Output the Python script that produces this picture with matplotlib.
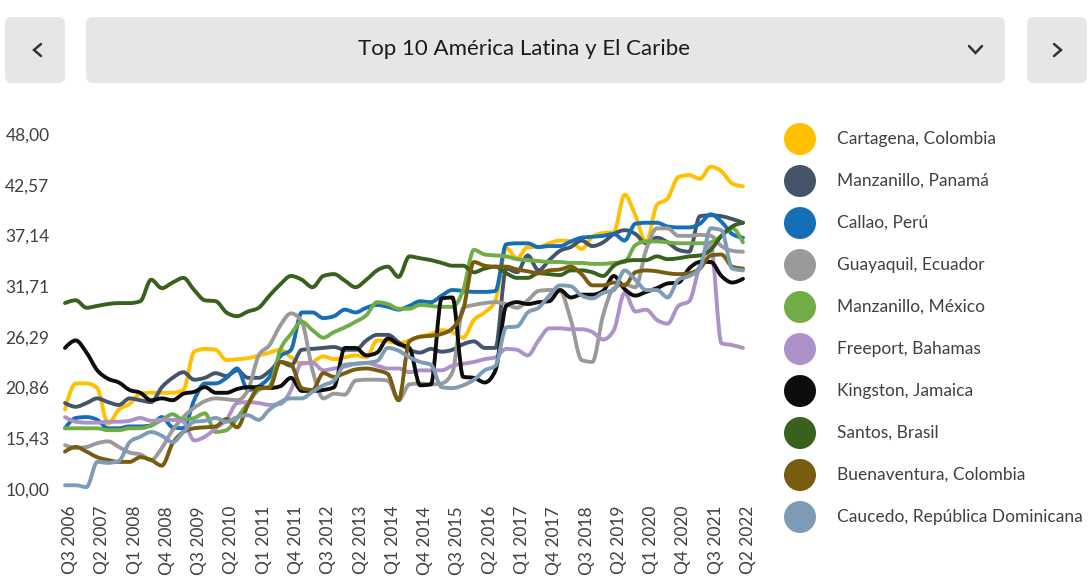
import numpy as np
import matplotlib
matplotlib.use("Agg")
import matplotlib.pyplot as plt
from matplotlib.path import Path
from matplotlib.patches import PathPatch, Circle, FancyBboxPatch
from matplotlib.transforms import IdentityTransform, ScaledTranslation
from matplotlib.lines import Line2D

plt.rcParams['font.family'] = ['Lato', 'DejaVu Sans']

title = "Top 10 América Latina y El Caribe"

# quarters Q3 2006 .. Q2 2022
quarters = []
for year in range(2006, 2023):
    for q in range(1, 5):
        if (year == 2006 and q < 3) or (year == 2022 and q > 2):
            continue
        quarters.append("Q%d %d" % (q, year))

ports = ["Cartagena, Colombia", "Manzanillo, Panamá", "Callao, Perú",
         "Guayaquil, Ecuador", "Manzanillo, México", "Freeport, Bahamas",
         "Kingston, Jamaica", "Santos, Brasil", "Buenaventura, Colombia",
         "Caucedo, República Dominicana"]

colors = ["#FFC000", "#44546A", "#156EB6", "#9A9A9A", "#70AD47",
          "#AC92C8", "#0D0D0D", "#38611C", "#7A5C0E", "#7E9CB5"]

cartagena = [18.5, 21.3, 21.3, 20.8, 17.0, 18.5, 19.1, 20.2, 20.3, 20.3, 20.3, 20.6,
             24.7, 25.0, 24.9, 23.8, 23.9, 24.0, 24.3, 24.6, 24.9, 24.1, 23.4, 23.6,
             24.2, 23.9, 24.1, 24.3, 24.1, 25.9, 25.8, 25.6, 25.9, 26.3, 26.6, 27.0,
             26.8, 26.2, 28.1, 28.9, 30.2, 35.8, 34.7, 35.9, 35.9, 36.3, 36.6, 36.5,
             35.7, 37.0, 37.4, 37.5, 41.5, 39.3, 36.4, 40.4, 41.1, 43.4, 43.6, 43.2,
             44.5, 44.0, 42.7, 42.4]
panama = [19.2, 18.8, 19.2, 19.7, 19.3, 19.0, 19.7, 19.5, 19.3, 20.9, 21.9, 22.5,
          21.7, 21.9, 22.4, 22.1, 22.7, 21.9, 21.9, 22.6, 23.6, 23.2, 24.9, 25.0,
          25.1, 25.2, 24.9, 24.9, 25.9, 26.5, 26.5, 25.7, 24.9, 24.6, 25.0, 24.7,
          24.9, 25.5, 25.8, 25.1, 25.1, 33.6, 33.2, 35.0, 33.4, 34.5, 35.5, 35.9,
          36.6, 36.0, 36.4, 37.3, 37.7, 37.3, 36.3, 36.9, 36.4, 35.6, 35.4, 39.2,
          39.3, 39.2, 38.9, 38.5]
callao = [16.5, 17.6, 17.7, 17.4, 16.5, 16.5, 16.7, 16.7, 16.8, 17.7, 16.6, 16.5,
          19.5, 21.3, 21.3, 21.9, 22.9, 20.6, 21.0, 22.0, 24.2, 24.9, 28.9, 28.9,
          28.3, 28.5, 29.2, 28.9, 29.4, 29.7, 29.5, 29.2, 29.6, 30.1, 30.0, 30.7,
          31.3, 31.2, 31.1, 31.1, 31.2, 36.2, 36.3, 36.3, 35.9, 36.0, 36.0, 36.5,
          36.9, 37.0, 37.1, 37.3, 36.6, 38.4, 38.5, 38.5, 38.1, 38.0, 38.0, 38.4,
          39.4, 38.6, 37.3, 36.9]
guayaquil = [14.7, 14.4, 14.5, 14.9, 15.1, 14.5, 13.9, 13.7, 13.1, 14.4, 16.3, 17.7,
             18.7, 19.4, 19.7, 19.6, 19.5, 20.6, 24.3, 25.4, 27.5, 28.8, 27.9, 22.7,
             19.7, 20.2, 20.1, 21.6, 21.7, 21.7, 21.6, 19.5, 21.2, 21.3, 21.2, 21.3,
             22.5, 29.4, 29.7, 29.9, 30.0, 29.8, 29.4, 30.2, 31.2, 31.3, 31.2, 28.1,
             23.8, 23.6, 28.6, 31.5, 31.9, 31.6, 35.6, 37.9, 37.9, 37.1, 37.1, 37.2,
             37.1, 36.0, 35.5, 35.4]
mexico = [16.5, 16.5, 16.5, 16.5, 16.3, 16.3, 16.5, 16.5, 16.8, 17.4, 18.0, 17.4,
          17.6, 18.1, 16.1, 16.3, 17.6, 19.2, 20.6, 21.0, 24.9, 26.6, 27.9, 27.0,
          26.2, 26.8, 27.3, 27.9, 28.6, 30.0, 29.8, 29.3, 29.3, 29.7, 29.6, 29.5,
          29.5, 31.3, 35.6, 35.1, 35.0, 34.9, 34.6, 34.5, 34.4, 34.3, 34.3, 34.2,
          34.2, 34.1, 34.1, 34.2, 34.3, 36.1, 36.5, 36.5, 36.4, 36.3, 36.3, 36.3,
          36.4, 37.1, 37.9, 36.4]
freeport = [17.7, 17.2, 17.1, 17.1, 17.2, 17.2, 17.3, 17.6, 17.3, 17.4, 17.4, 17.2,
            15.2, 15.6, 16.5, 17.4, 19.2, 19.3, 19.2, 19.0, 19.1, 20.6, 23.5, 23.5,
            22.7, 22.9, 23.1, 23.4, 23.5, 23.2, 22.9, 22.9, 22.5, 22.7, 22.7, 22.7,
            23.2, 23.4, 23.6, 23.9, 24.1, 25.0, 24.9, 24.3, 25.9, 27.2, 27.2, 27.1,
            27.1, 26.8, 26.0, 27.0, 31.0, 29.0, 29.2, 28.1, 27.7, 29.6, 30.1, 34.0,
            36.1, 25.6, 25.4, 25.1]
kingston = [25.1, 25.9, 24.6, 22.7, 21.8, 21.4, 20.6, 20.3, 19.5, 19.7, 19.5, 20.2,
            20.4, 20.9, 20.3, 20.3, 20.7, 20.9, 20.9, 20.8, 21.0, 21.9, 20.5, 20.5,
            20.6, 20.9, 25.1, 25.1, 24.3, 24.6, 26.1, 25.5, 25.1, 21.1, 21.2, 30.4,
            30.5, 22.0, 21.9, 21.4, 22.7, 29.6, 30.0, 29.8, 30.0, 30.1, 31.3, 30.5,
            30.8, 30.8, 31.2, 32.8, 31.4, 30.7, 31.1, 31.5, 32.0, 32.1, 33.6, 34.3,
            34.3, 32.8, 32.1, 32.5]
santos = [29.9, 30.2, 29.4, 29.6, 29.8, 29.9, 29.9, 30.1, 32.4, 31.5, 32.1, 32.6,
          31.3, 30.2, 30.1, 28.9, 28.5, 29.0, 29.4, 30.7, 31.9, 32.8, 32.4, 31.6,
          32.8, 33.0, 32.3, 31.6, 32.4, 33.4, 33.8, 32.7, 34.9, 34.7, 34.5, 34.2,
          33.9, 33.9, 33.2, 33.6, 33.8, 33.1, 32.6, 32.6, 33.1, 33.0, 32.9, 33.4,
          33.4, 33.2, 32.8, 33.9, 34.4, 34.5, 34.5, 34.9, 34.6, 34.7, 34.9, 35.0,
          35.6, 37.1, 38.1, 38.5]
buenaventura = [14.0, 14.5, 14.0, 13.4, 13.1, 12.9, 12.9, 13.4, 13.1, 12.5, 14.9, 16.1,
                16.5, 16.6, 16.7, 17.5, 16.6, 19.0, 20.8, 20.8, 23.6, 23.3, 20.8, 20.6,
                22.4, 22.0, 22.4, 22.8, 22.9, 22.7, 22.3, 19.5, 25.8, 26.3, 26.4, 26.6,
                27.2, 29.2, 34.3, 33.9, 33.8, 33.8, 33.5, 33.3, 33.1, 33.4, 33.5, 33.8,
                33.0, 31.8, 31.8, 32.1, 31.8, 33.2, 33.4, 33.3, 33.1, 33.0, 33.1, 33.6,
                35.0, 35.1, 33.8, 33.6]
caucedo = [10.4, 10.4, 10.2, 12.9, 12.8, 13.0, 15.0, 15.6, 16.1, 15.7, 15.0, 16.1,
           17.2, 17.3, 17.6, 17.2, 17.7, 17.9, 17.4, 18.5, 19.3, 19.7, 19.7, 20.4,
           21.1, 21.6, 23.3, 23.4, 23.5, 23.7, 25.1, 24.8, 24.1, 23.6, 23.3, 20.9,
           20.8, 21.1, 21.7, 22.7, 23.2, 27.3, 27.4, 28.9, 29.4, 30.7, 31.8, 31.7,
           30.7, 30.4, 31.0, 31.3, 33.4, 32.4, 31.3, 31.3, 30.5, 32.4, 32.8, 33.6,
           37.9, 37.7, 33.6, 33.4]

series = [cartagena, panama, callao, guayaquil, mexico, freeport,
          kingston, santos, buenaventura, caucedo]

y_ticks = np.linspace(10, 48, 8)


def monotone_path(x, y):
    # monotone cubic (like d3 curveMonotoneX) as bezier segments
    x = np.asarray(x, float)
    y = np.asarray(y, float)
    h = np.diff(x)
    s = np.diff(y) / h
    n = len(x)
    m = np.zeros(n)
    for k in range(1, n - 1):
        p = (s[k - 1] * h[k] + s[k] * h[k - 1]) / (h[k - 1] + h[k])
        m[k] = (np.sign(s[k - 1]) + np.sign(s[k])) * min(abs(s[k - 1]), abs(s[k]), 0.5 * abs(p))
    m[0] = (3 * s[0] - m[1]) / 2
    m[-1] = (3 * s[-1] - m[-2]) / 2
    verts = [(x[0], y[0])]
    codes = [Path.MOVETO]
    for k in range(n - 1):
        d = h[k] / 3
        verts += [(x[k] + d, y[k] + d * m[k]), (x[k + 1] - d, y[k + 1] - d * m[k + 1]), (x[k + 1], y[k + 1])]
        codes += [Path.CURVE4] * 3
    return Path(verts, codes)


W, H = 1088, 576
fig = plt.figure(figsize=(W / 100, H / 100), dpi=100)
fig.patch.set_facecolor("white")

# header bar
px = IdentityTransform()
for (x0, w) in [(5, 60), (86, 919), (1027, 60)]:
    fig.add_artist(FancyBboxPatch((x0, H - 83), w, 66,
                                  boxstyle="round,pad=0,rounding_size=7",
                                  facecolor="#E6E6E6", edgecolor="none", transform=px))
chev = dict(color="#333333", lw=1.8, solid_capstyle="round", solid_joinstyle="miter", transform=px)
fig.add_artist(Line2D([41, 34, 41], [H - 44, H - 50, H - 56], **chev))
fig.add_artist(Line2D([1054, 1061, 1054], [H - 44, H - 50, H - 56], **chev))
fig.add_artist(Line2D([969, 975.5, 982], [H - 46, H - 53, H - 46], **chev))
fig.text(524 / W, 1 - 49 / H, title, ha="center", va="center", fontsize=16, color="#1A1A1A")

# chart
ax_left, ax_right = 62, 746
y_bottom_px = 489 + 9.342
y_top_px = 134 - 9.342
ax = fig.add_axes([ax_left / W, (H - y_bottom_px) / H, (ax_right - ax_left) / W,
                   (y_bottom_px - y_top_px) / H])
ax.set_xlim(-0.28, 63.28)
ax.set_ylim(9, 49)
for sp in ax.spines.values():
    sp.set_visible(False)

xs = np.arange(len(quarters))
for vals, col in zip(series, colors):
    ax.add_patch(PathPatch(monotone_path(xs, vals), facecolor="none", edgecolor=col,
                           lw=2.8, capstyle="round", joinstyle="round"))

ax.set_yticks(y_ticks)
ax.set_yticklabels([("%.2f" % v).replace(".", ",") for v in y_ticks])
ax.set_xticks(xs[::3])
ax.set_xticklabels(quarters[::3], rotation=90)
ax.tick_params(axis="y", length=0, pad=9, labelsize=12.5, labelcolor="#404040")
ax.tick_params(axis="x", length=0, pad=5.5, labelsize=12.5, labelcolor="#404040")
shift = ScaledTranslation(5 / 100, 0, fig.dpi_scale_trans)
for lab in ax.get_xticklabels():
    lab.set_transform(lab.get_transform() + shift)

# legend
for k, (name, col) in enumerate(zip(ports, colors)):
    yc = 139 + 42 * k
    fig.add_artist(Circle((8.00, (H - yc) / 100), 0.16, facecolor=col, edgecolor="none",
                          transform=fig.dpi_scale_trans))
    fig.text(837 / W, 1 - yc / H, name, ha="left", va="center", fontsize=12.5, color="#404040")

fig.savefig("out.png", dpi=100)
